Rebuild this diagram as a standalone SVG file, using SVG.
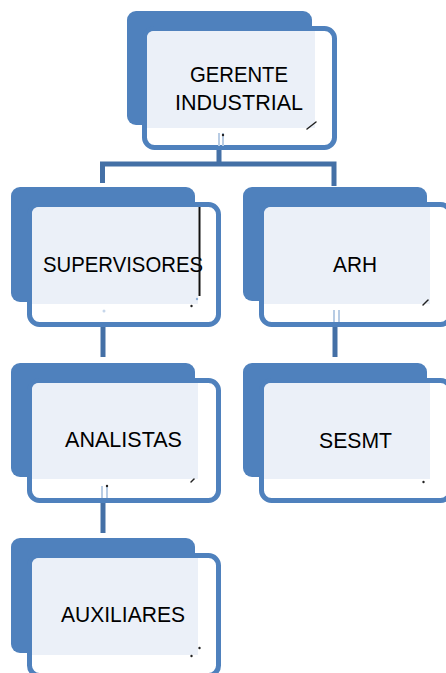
<svg xmlns="http://www.w3.org/2000/svg" width="446" height="673" viewBox="0 0 446 673">
<style>
.back{fill:#4F81BD}
.front{fill:#FFFFFF;stroke:#4F81BD;stroke-width:5}
.light{fill:#EBF0F8}
.lbl{font-family:"Liberation Sans",Arial,sans-serif;font-size:22.5px;fill:#000;text-anchor:middle}
.conn{stroke:#4470A6;stroke-width:5;fill:none}
.ghost{stroke:#B8CCE4;stroke-width:2;fill:none}
.mark{stroke:#222;stroke-width:1.5;fill:none;stroke-linecap:round}
.dot{fill:#222}
</style>
<rect width="446" height="673" fill="#FFFFFF"/>
<g id="connectors">
<path class="conn" d="M219 150 V164 M100 164 H336 M102.5 161.5 V183 M334 161.5 V186"/>
<path class="conn" d="M103 327 V357"/>
<path class="conn" d="M335 327 V357"/>
<path class="conn" d="M103 503 V533"/>
</g>
<g id="gerente">
<rect class="back" x="127" y="11" width="185" height="114" rx="9"/>
<rect class="front" x="144.5" y="28.5" width="190" height="119" rx="10"/>
<path class="light" d="M154 31 H315 V128 H147 V38 Q147 31 154 31 Z"/>
<text class="lbl" x="239" y="82" textLength="98" lengthAdjust="spacingAndGlyphs">GERENTE</text>
<text class="lbl" x="239" y="110" textLength="128" lengthAdjust="spacingAndGlyphs">INDUSTRIAL</text>
<path class="ghost" d="M219 133 V146 M223 133 V146"/>
<circle class="dot" cx="223" cy="135" r="1.2"/>
<path class="mark" d="M307 129 L316 122"/>
</g>
<g id="supervisores">
<rect class="back" x="11" y="187" width="184" height="115" rx="9"/>
<rect class="front" x="29.5" y="204.5" width="189" height="120" rx="10"/>
<path class="light" d="M39 207 H198 V304 H32 V214 Q32 207 39 207 Z"/>
<text class="lbl" x="123" y="272" textLength="160" lengthAdjust="spacingAndGlyphs">SUPERVISORES</text>
<line x1="199.5" y1="207" x2="199.5" y2="296" stroke="#111" stroke-width="2"/>
<circle class="dot" cx="191.5" cy="306" r="1.2"/>
<circle cx="197" cy="299" r="1.2" fill="#8FB0D8"/>
<circle cx="104" cy="311" r="1.5" fill="#C6D6EA"/>
</g>
<g id="arh">
<rect class="back" x="243" y="187" width="184" height="114" rx="9"/>
<rect class="front" x="261.5" y="204.5" width="189" height="120" rx="10"/>
<path class="light" d="M271 207 H430 V304 H264 V214 Q264 207 271 207 Z"/>
<text class="lbl" x="355" y="272" textLength="44" lengthAdjust="spacingAndGlyphs">ARH</text>
<path class="ghost" d="M334 310 V322 M339 310 V322"/>
<path class="mark" d="M423 305 L428 300"/>
</g>
<g id="analistas">
<rect class="back" x="11" y="363" width="184" height="114" rx="9"/>
<rect class="front" x="29.5" y="380.5" width="189" height="120" rx="10"/>
<path class="light" d="M39 383 H198 V479 H32 V390 Q32 383 39 383 Z"/>
<text class="lbl" x="123.5" y="447" textLength="117" lengthAdjust="spacingAndGlyphs">ANALISTAS</text>
<path class="ghost" d="M102 486 V498 M107 486 V498"/>
<circle class="dot" cx="107" cy="486" r="1.2"/>
<path class="mark" d="M191 482 L194 479"/>
</g>
<g id="sesmt">
<rect class="back" x="243" y="363" width="184" height="114" rx="9"/>
<rect class="front" x="261.5" y="380.5" width="189" height="120" rx="10"/>
<path class="light" d="M271 383 H430 V479 H264 V390 Q264 383 271 383 Z"/>
<text class="lbl" x="355.5" y="448" textLength="73" lengthAdjust="spacingAndGlyphs">SESMT</text>
<circle class="dot" cx="423.5" cy="482" r="1.2"/>
</g>
<g id="auxiliares">
<rect class="back" x="11" y="538" width="184" height="115" rx="9"/>
<rect class="front" x="29.5" y="555.5" width="189" height="120" rx="10"/>
<path class="light" d="M39 558 H198 V655 H32 V565 Q32 558 39 558 Z"/>
<text class="lbl" x="123" y="622" textLength="124" lengthAdjust="spacingAndGlyphs">AUXILIARES</text>
<circle class="dot" cx="199.5" cy="648" r="1.2"/>
<circle class="dot" cx="191.5" cy="656" r="1.2"/>
</g>
</svg>
